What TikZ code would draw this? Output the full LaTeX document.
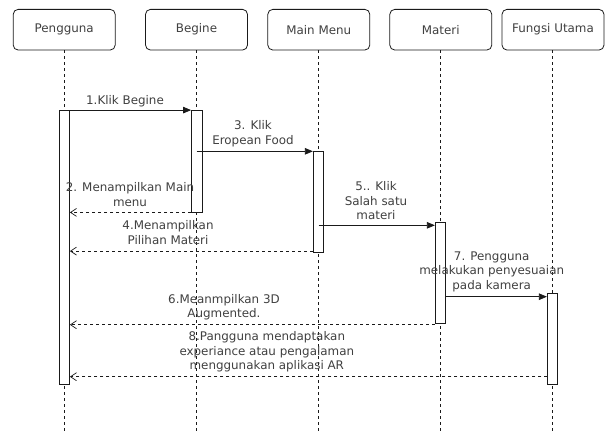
\documentclass[tikz,border=0pt]{standalone}
\usepackage{fontspec}
\setmainfont{DejaVu Sans}
\usetikzlibrary{arrows.meta}
\definecolor{txt}{HTML}{404040}
\definecolor{ln}{HTML}{1A1A1A}
\begin{document}
\begin{tikzpicture}[x=1pt,y=-1pt,
  font=\fontsize{11.9}{14.6}\selectfont,
  head/.style={draw=ln,line width=0.8pt,rounded corners=5pt,minimum width=102pt,minimum height=40.7pt,inner sep=0pt,text=txt},
  life/.style={draw=ln,line width=0.7pt,dash pattern=on 3pt off 3pt},
  act/.style={draw=ln,fill=white,line width=0.8pt,minimum width=10.4pt,inner sep=0pt},
  call/.style={draw=ln,line width=0.8pt,-{Triangle[length=8pt,width=6.5pt]}},
  ret/.style={draw=ln,line width=0.7pt,dash pattern=on 3pt off 3pt,-{Straight Barb[length=6pt,width=8pt]}},
  lbl/.style={text=txt,align=center,inner sep=0pt}
]
\useasboundingbox (0,0) rectangle (605,432);
% headers
\node[head] (hP) at (64.2,29.7) {Pengguna};
\node[head] (hB) at (196.5,29.7) {Begine};
\node[head] (hM) at (318.8,29.7) {Main Menu};
\node[head] (hT) at (440.8,29.7) {Materi};
\node[head] (hF) at (553,29.7) {Fungsi Utama};
% lifeline ends
\coordinate (eP) at (64.2,432);
\coordinate (eB) at (196.7,432);
\coordinate (eM) at (318.5,432);
\coordinate (eT) at (440.5,432);
\coordinate (eF) at (552.5,432);
\draw[life] (hP.south) -- (eP);
\draw[life] (hB.south -| eB) -- (eB);
\draw[life] (hM.south -| eM) -- (eM);
\draw[life] (hT.south -| eT) -- (eT);
\draw[life] (hF.south -| eF) -- (eF);
% activations
\node[act,minimum height=273.8pt] (aP) at (64.3,247.4) {};
\node[act,minimum height=101.5pt] (aB) at (196.7,161.25) {};
\node[act,minimum height=101pt] (aM) at (318.5,201.5) {};
\node[act,minimum height=101.4pt] (aT) at (440.5,273) {};
\node[act,minimum height=91pt] (aF) at (552.5,338.8) {};
% arrow anchor points
\coordinate (y3) at (196.7,151.3);
\coordinate (y5) at (318.5,225.3);
\coordinate (y7) at (445.7,296.7);
\coordinate (y8) at (547.3,376.7);
% messages
\draw[call] (aP.north east) -- (aB.north west);
\draw[call] (y3) -- (y3 -| aM.west);
\draw[ret] (aB.south west) -- (aB.south west -| aP.east);
\draw[ret] (aM.south west) ++(0,-1.3) coordinate (r4) -- (r4 -| aP.east);
\draw[call] (y5) -- (y5 -| aT.west);
\draw[call] (y7) -- (y7 -| aF.west);
\draw[ret] (aT.south west) ++(0,0.6) coordinate (r6) -- (r6 -| aP.east);
\draw[ret] (y8) -- (y8 -| aP.east);
% labels
\node[lbl] (l1) at (125,101) {1.Klik Begine};
\node[lbl] (l3) at (253,133.5) {3. Klik\\Eropean Food};
\node[lbl] (l2) at (130,194.5) {2. Menampilkan Main\\menu};
\node[lbl] (l4) at (168,232.5) {4.Menampilkan\\Pilihan Materi};
\node[lbl] (l5) at (376,200.7) {5.. Klik\\Salah satu\\materi};
\node[lbl] (l7) at (491.7,271.7) {7. Pengguna\\melakukan penyesuaian\\pada kamera};
\node[lbl] (l6) at (224,307.4) {6.Meanmpilkan 3D\\Augmented.};
\node[lbl] (l8) at (266.8,351.9) {8.Pangguna mendaptakan\\experiance atau pengalaman\\menggunakan aplikasi AR};
\end{tikzpicture}
\end{document}
